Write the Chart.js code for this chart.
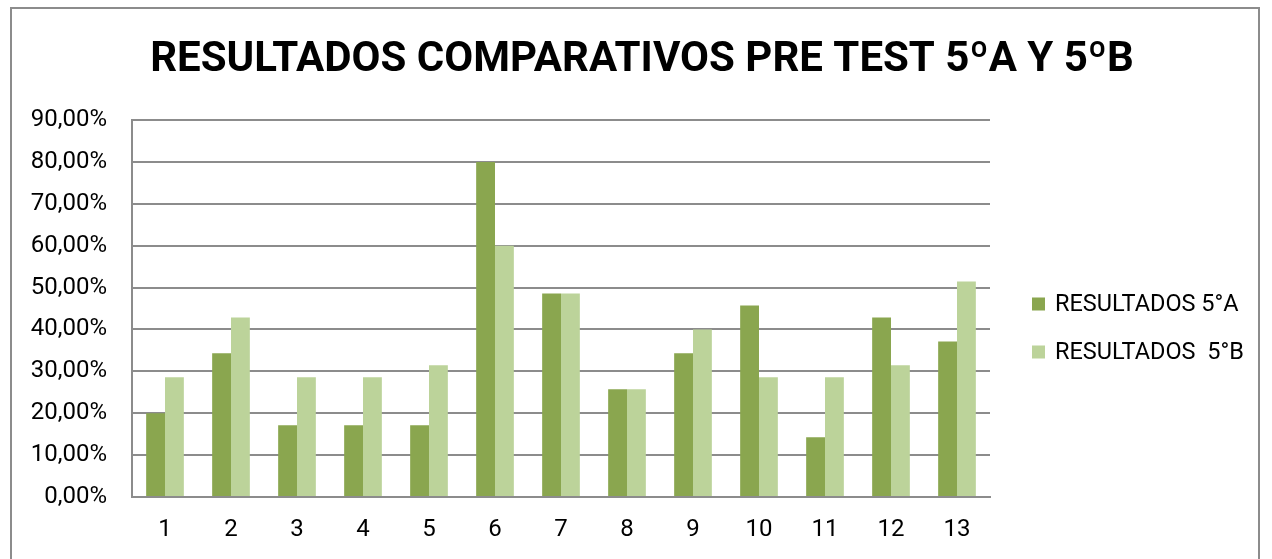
<!DOCTYPE html>
<html>
<head>
<meta charset="utf-8">
<script src="https://cdn.jsdelivr.net/npm/chart.js@4/dist/chart.umd.min.js"></script>
<style>
  html, body { margin: 0; padding: 0; background: #ffffff; width: 1272px; height: 559px; overflow: hidden; }
  #frame { position: absolute; left: 10px; top: 7px; width: 1250px; height: 600px; border: 2px solid #8c8c8c; box-sizing: border-box; }
  #c { position: absolute; left: 0; top: 0; }
</style>
</head>
<body>
<div id="frame"></div>
<canvas id="c" width="1272" height="559"></canvas>
<script>
const TITLE = 'RESULTADOS COMPARATIVOS PRE TEST 5ºA Y 5ºB';
const categories = ['1', '2', '3', '4', '5', '6', '7', '8', '9', '10', '11', '12', '13'];
const seriesNames = ['RESULTADOS 5°A', 'RESULTADOS  5°B'];
const resultados5A = [0.2000, 0.3429, 0.1714, 0.1714, 0.1714, 0.8000, 0.4857, 0.2571, 0.3429, 0.4571, 0.1429, 0.4286, 0.3714];
const resultados5B = [0.2857, 0.4286, 0.2857, 0.2857, 0.3143, 0.6000, 0.4857, 0.2571, 0.4000, 0.2857, 0.2857, 0.3143, 0.5143];
const seriesColors = ['#8aa64f', '#bcd39a'];
const yMin = 0, yMax = 0.9, yStep = 0.1;

const FONT = 'Roboto, "Open Sans", Arial, sans-serif';

const titleAndLegend = {
  id: 'titleAndLegend',
  afterDraw(chart) {
    const ctx = chart.ctx;
    const area = chart.chartArea;
    ctx.save();
    // title
    ctx.fillStyle = '#000000';
    ctx.font = 'bold 42px ' + FONT;
    ctx.textAlign = 'center';
    ctx.textBaseline = 'middle';
    ctx.fillText(TITLE, 642, 60);
    // legend
    ctx.font = '23.5px ' + FONT;
    ctx.textAlign = 'left';
    const mid = (area.top + area.bottom) / 2;
    chart.data.datasets.forEach((ds, i) => {
      const y = mid + 20 + (i - 0.5) * 48;
      ctx.fillStyle = ds.backgroundColor;
      ctx.fillRect(area.right + 42, y - 7, 13, 13);
      ctx.fillStyle = '#000000';
      ctx.fillText(ds.label, area.right + 65, y + 1);
    });
    ctx.restore();
  }
};

new Chart(document.getElementById('c'), {
  type: 'bar',
  data: {
    labels: categories,
    datasets: [
      { label: seriesNames[0], data: resultados5A, backgroundColor: seriesColors[0] },
      { label: seriesNames[1], data: resultados5B, backgroundColor: seriesColors[1] }
    ]
  },
  options: {
    responsive: false,
    animation: false,
    devicePixelRatio: 1,
    layout: { padding: { top: 120, right: 282, left: 0, bottom: 0 } },
    datasets: { bar: { categoryPercentage: 0.571, barPercentage: 1.0 } },
    plugins: {
      legend: { display: false },
      title: { display: false },
      tooltip: { enabled: false }
    },
    scales: {
      x: {
        grid: { display: false, drawTicks: false },
        border: { display: true, color: '#8c8c8c', width: 2 },
        ticks: { color: '#000000', font: { family: FONT, size: 24 }, padding: 19, maxRotation: 0 },
        afterFit(scale) { scale.height = 62; }
      },
      y: {
        min: yMin, max: yMax,
        grid: { color: '#8c8c8c', lineWidth: 2, drawTicks: false },
        border: { display: true, color: '#8c8c8c', width: 2 },
        ticks: {
          stepSize: yStep,
          color: '#000000',
          font: { family: FONT, size: 24 },
          padding: 25,
          callback: (v) => (v * 100).toFixed(2).replace('.', ',') + '%'
        },
        afterFit(scale) { scale.width = 132; }
      }
    }
  },
  plugins: [titleAndLegend]
});
</script>
</body>
</html>
